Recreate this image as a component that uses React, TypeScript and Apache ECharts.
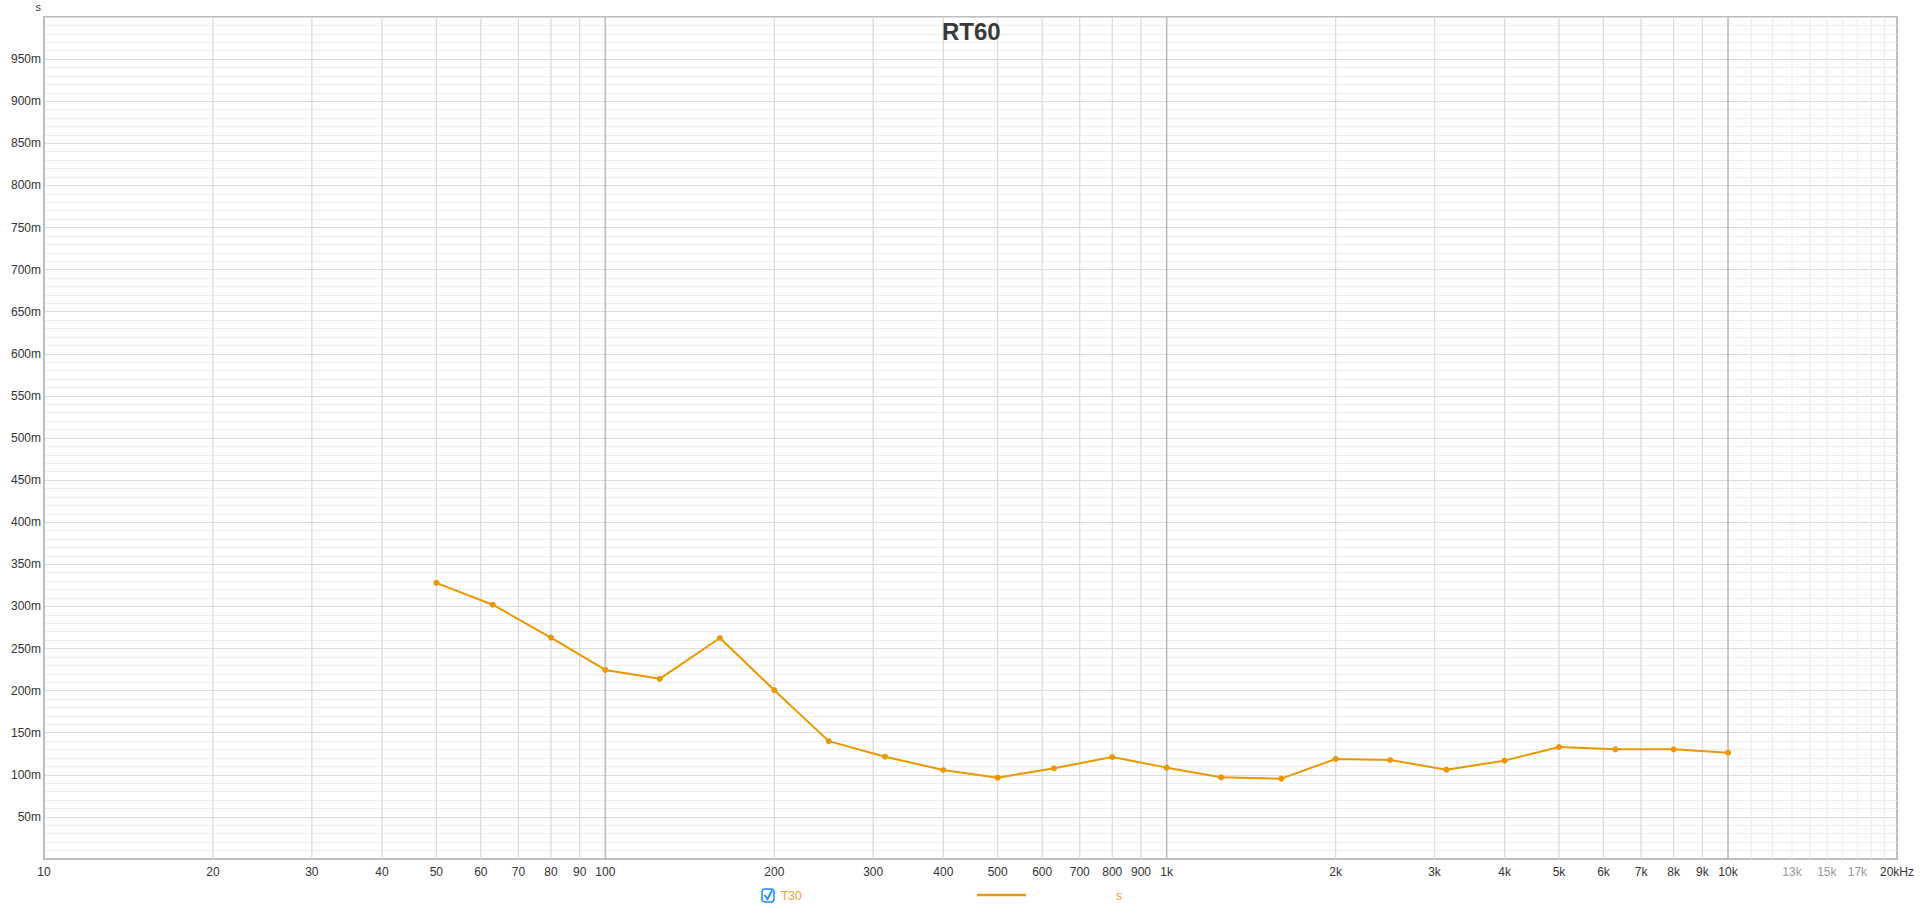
import React, { useEffect, useRef } from "react";
import * as echarts from "echarts";

// Third-octave band centre frequencies (Hz)
const freqs = [50, 63, 80, 100, 125, 160, 200, 250, 315, 400, 500, 630, 800, 1000, 1250, 1600, 2000, 2500, 3150, 4000, 5000, 6300, 8000, 10000];
// T30 reverberation time (s)
const t30 = [0.328, 0.302, 0.263, 0.2245, 0.214, 0.2625, 0.2005, 0.14, 0.1215, 0.1057, 0.0966, 0.1077, 0.1211, 0.1085, 0.097, 0.0954, 0.1188, 0.1176, 0.1061, 0.1168, 0.133, 0.1302, 0.1302, 0.1263];

// Vertical grid lines
const decadeTicks = [100, 1000, 10000];
const minorTicks = [20, 30, 40, 50, 60, 70, 80, 90, 200, 300, 400, 500, 600, 700, 800, 900, 2000, 3000, 4000, 5000, 6000, 7000, 8000, 9000];
const faintTicks = [11000, 12000, 13000, 14000, 15000, 16000, 17000, 18000, 19000];

// X tick labels
const xLabelValues = [10, 20, 30, 40, 50, 60, 70, 80, 90, 100, 200, 300, 400, 500, 600, 700, 800, 900, 1000, 2000, 3000, 4000, 5000, 6000, 7000, 8000, 9000, 10000, 13000, 15000, 17000, 20000];
const xLabelTexts = ["10", "20", "30", "40", "50", "60", "70", "80", "90", "100", "200", "300", "400", "500", "600", "700", "800", "900", "1k", "2k", "3k", "4k", "5k", "6k", "7k", "8k", "9k", "10k", "13k", "15k", "17k", "20kHz"];
const greyLabels = ["13k", "15k", "17k"];

const seriesName = "T30";
const unitName = "s";
const titleText = "RT60";

const FONT = "'Liberation Sans', Arial, Helvetica, sans-serif";
const LINE_COLOR = "#eb9800";

export default function App() {
  const ref = useRef<HTMLDivElement>(null);

  useEffect(() => {
    if (!ref.current) return;
    const chart = echarts.init(ref.current, undefined, { renderer: "svg" });

    const gridData: any[] = [];
    decadeTicks.forEach((v) => gridData.push([v, 0, 2]));
    minorTicks.forEach((v) => gridData.push([v, 0, 1]));
    faintTicks.forEach((v) => gridData.push([v, 0, 0]));

    const labelData = xLabelValues.map((v, i) => [v, 0, i]);

    const option: any = {
      animation: false,
      backgroundColor: "#ffffff",
      textStyle: { fontFamily: FONT },
      title: {
        text: titleText,
        left: 942,
        top: 19,
        padding: 0,
        textStyle: { fontFamily: FONT, fontSize: 24, fontWeight: "bold", color: "#3a3a3a" },
      },
      grid: {
        left: 44,
        right: 23,
        top: 17,
        bottom: 54,
        show: true,
        borderColor: "#bdbdbd",
        borderWidth: 2,
        backgroundColor: "transparent",
      },
      xAxis: {
        type: "log",
        logBase: 10,
        min: 10,
        max: 20000,
        axisLine: { show: true, lineStyle: { color: "#bdbdbd", width: 2 } },
        axisTick: { show: false },
        axisLabel: { show: false },
        splitLine: { show: false },
      },
      yAxis: {
        type: "value",
        min: 0,
        max: 1,
        interval: 0.05,
        name: unitName,
        nameLocation: "end",
        nameGap: 5,
        nameTextStyle: { color: "#333", fontSize: 11, fontFamily: FONT, align: "right", padding: [0, 3, 0, 0] },
        axisLine: { show: true, lineStyle: { color: "#bdbdbd", width: 2 } },
        axisTick: { show: false },
        axisLabel: {
          color: "#333",
          fontSize: 12,
          fontFamily: FONT,
          margin: 3,
          formatter: (v: number) => {
            const ms = Math.round(v * 1000);
            if (ms <= 0 || ms >= 1000) return "";
            return ms + "m";
          },
        },
        splitLine: { show: true, lineStyle: { color: "#dcdcdc", width: 1.2 } },
        minorTick: { show: false, splitNumber: 5 },
        minorSplitLine: { show: true, lineStyle: { color: "#eeeeee", width: 1.2 } },
      },
      series: [
        {
          type: "custom",
          name: "vgrid",
          z: 1,
          silent: true,
          data: gridData,
          renderItem: (params: any, api: any) => {
            const v = api.value(0);
            const kind = api.value(2);
            const p0 = api.coord([v, 0]);
            const p1 = api.coord([v, 1]);
            const color = kind === 2 ? "#bdbdbd" : kind === 1 ? "#dcdcdc" : "#eeeeee";
            return {
              type: "line",
              shape: { x1: p0[0], y1: p0[1], x2: p1[0], y2: p1[1] },
              style: { stroke: color, lineWidth: kind === 2 ? 1.6 : 1.3 },
            };
          },
        },
        {
          type: "custom",
          name: "xlabels",
          z: 1,
          silent: true,
          data: labelData,
          renderItem: (params: any, api: any) => {
            const v = api.value(0);
            const idx = api.value(2);
            const p = api.coord([v, 0]);
            const txt = xLabelTexts[idx];
            return {
              type: "text",
              x: p[0],
              y: p[1] + 13,
              style: {
                text: txt,
                textAlign: "center",
                textVerticalAlign: "middle",
                fill: greyLabels.indexOf(txt) >= 0 ? "#999999" : "#333333",
                fontSize: 12,
                fontFamily: FONT,
              },
            };
          },
        },
        {
          type: "line",
          name: seriesName,
          z: 5,
          data: freqs.map((f, i) => [f, t30[i]]),
          symbol: "circle",
          symbolSize: 6,
          showSymbol: true,
          lineStyle: { color: LINE_COLOR, width: 2 },
          itemStyle: { color: LINE_COLOR },
        },
      ],
      graphic: [
        {
          type: "rect",
          shape: { x: 762, y: 889, width: 12, height: 13, r: 3 },
          style: { fill: "#ffffff", stroke: "#1a8cff", lineWidth: 1.5 },
        },
        {
          type: "polyline",
          shape: { points: [[764.5, 895], [767.5, 899], [772, 890.5]] },
          style: { stroke: "#1a8cff", lineWidth: 1.8, fill: null },
        },
        {
          type: "text",
          x: 781,
          y: 896,
          style: { text: seriesName, fill: "#f0a030", fontSize: 12, fontFamily: FONT, textVerticalAlign: "middle" },
        },
        {
          type: "line",
          shape: { x1: 977, y1: 895, x2: 1026, y2: 895 },
          style: { stroke: LINE_COLOR, lineWidth: 2.5 },
        },
        {
          type: "text",
          x: 1116,
          y: 896,
          style: { text: unitName, fill: "#f0a030", fontSize: 12, fontFamily: FONT, textVerticalAlign: "middle" },
        },
      ],
    };

    chart.setOption(option);
    return () => chart.dispose();
  }, []);

  return (
    <div
      ref={ref}
      style={{ position: "fixed", left: 0, top: 0, width: "1920px", height: "913px", background: "#fff" }}
    />
  );
}
